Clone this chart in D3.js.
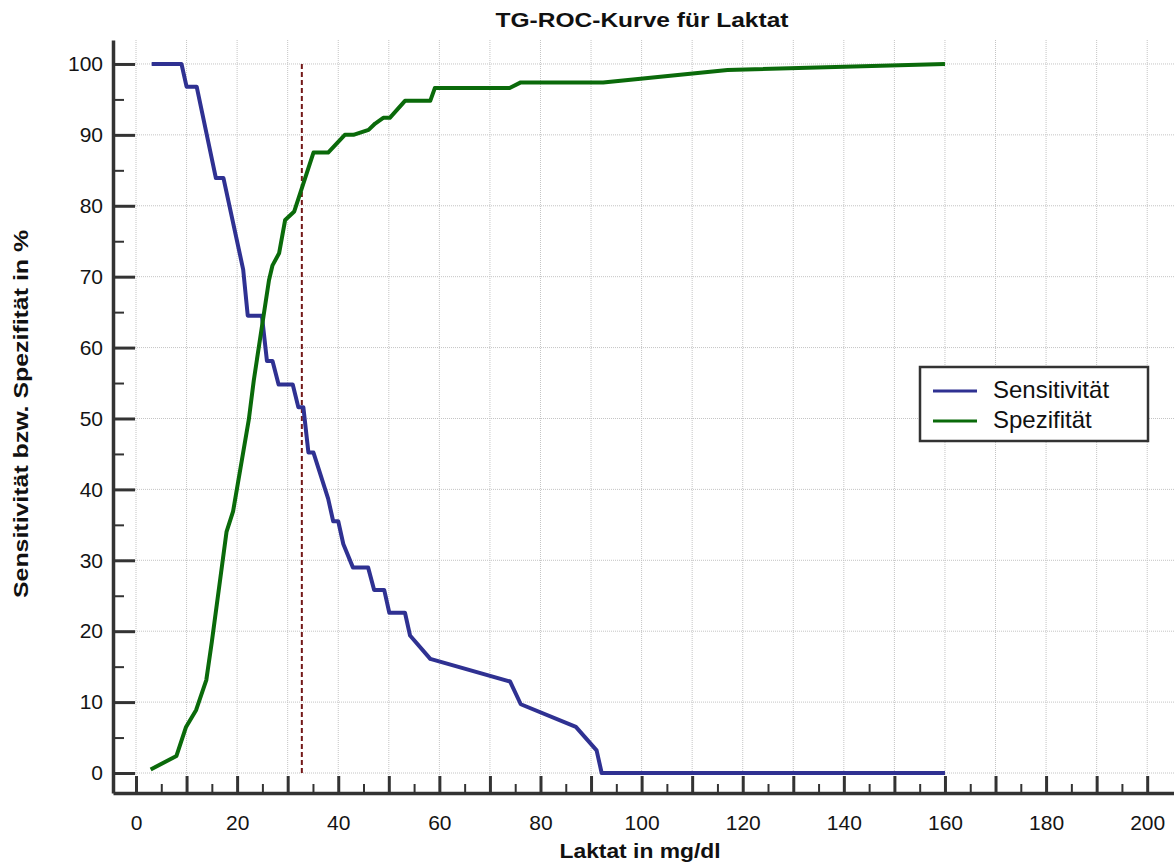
<!DOCTYPE html>
<html>
<head>
<meta charset="utf-8">
<script src="https://cdn.jsdelivr.net/npm/d3@7"></script>
<style>
    body { margin: 0; background: #fff; }
    svg { display: block; font-family: Arial, "Liberation Sans", sans-serif; }
    .grid line { stroke: #c4c4c4; stroke-width: 1; stroke-dasharray: 1,1; }
    .axis .domain { stroke: #333; stroke-width: 3.5; }
    .axis .tick line { stroke: #333; stroke-width: 3; }
    .axis.minor .tick line { stroke-width: 2; }
    .axis text { font-size: 21px; fill: #141414; }
</style>
</head>
<body>
<svg id="chart" width="1174" height="865"></svg>
<script>
// Laktat-Grenzwert (mg/dl)
var laktatSens = [3.1, 9.0, 10.0, 12.0, 15.8, 17.3, 21.2, 22.1, 24.9, 25.9, 27.0, 28.2, 31.0, 32.1, 33.1, 34.1, 35.1,
    38.0, 39.0, 40.0, 41.0, 42.9, 45.9, 47.1, 49.1, 50.1, 53.2, 54.2, 58.2, 74.0, 76.1, 87.0, 91.1, 92.1, 160];
var sensitivitaet = [100, 100, 96.8, 96.8, 83.9, 83.9, 71.0, 64.5, 64.5, 58.1, 58.1, 54.8, 54.8, 51.6, 51.6, 45.2, 45.2,
    38.7, 35.5, 35.5, 32.3, 29.0, 29.0, 25.8, 25.8, 22.6, 22.6, 19.4, 16.1, 12.9, 9.7, 6.5, 3.2, 0, 0];

var laktatSpez = [2.9, 8.0, 9.9, 11.9, 13.9, 15.0, 17.9, 19.2, 22.3, 23.3, 25.3, 26.3, 27.0, 28.3, 29.5, 31.3, 35.1,
    38.0, 41.3, 43.0, 46.0, 47.3, 48.9, 50.2, 53.2, 58.2, 59.1, 73.9, 76.1, 92.4, 117, 160];
var spezifitaet = [0.5, 2.4, 6.5, 8.9, 13.1, 18.5, 34.0, 36.9, 49.8, 55.4, 64.8, 69.5, 71.6, 73.3, 78.0, 79.2, 87.5,
    87.5, 90.0, 90.0, 90.7, 91.6, 92.4, 92.4, 94.8, 94.8, 96.6, 96.6, 97.4, 97.4, 99.15, 100];

var cutoff = 32.8;

var xTicks = d3.range(0, 201, 10),
    xMinorTicks = d3.range(5, 201, 10),
    yTicks = d3.range(0, 101, 10),
    yMinorTicks = d3.range(5, 101, 10);

var series = [
    { name: 'Sensitivität', x: laktatSens, y: sensitivitaet, color: '#2f3192' },
    { name: 'Spezifität', x: laktatSpez, y: spezifitaet, color: '#0a6a0a' }
];


var svg = d3.select('#chart');

var x = d3.scaleLinear().domain([-4.55, 205.3]).range([113, 1174]),
    y = d3.scaleLinear().domain([-2.82, 103.38]).range([793, 40]);

// grid
svg.append('g')
    .attr('class', 'grid')
    .selectAll('line.v')
    .data(xTicks)
    .enter()
    .append('line')
    .attr('x1', function(d) { return x(d); })
    .attr('x2', function(d) { return x(d); })
    .attr('y1', y.range()[1])
    .attr('y2', y.range()[0]);

svg.select('.grid')
    .selectAll('line.h')
    .data(yTicks)
    .enter()
    .append('line')
    .attr('x1', x.range()[0])
    .attr('x2', x.range()[1])
    .attr('y1', function(d) { return y(d); })
    .attr('y2', function(d) { return y(d); });

// axes, ticks point into the plot
svg.append('g')
    .attr('class', 'axis minor')
    .attr('transform', 'translate(0,' + y.range()[0] + ')')
    .call(d3.axisBottom(x).tickValues(xMinorTicks).tickSize(-9).tickSizeOuter(0).tickFormat(''))
    .call(function(g) { g.select('.domain').remove(); });

svg.append('g')
    .attr('class', 'axis minor')
    .attr('transform', 'translate(' + x.range()[0] + ',0)')
    .call(d3.axisLeft(y).tickValues(yMinorTicks).tickSize(-11).tickSizeOuter(0).tickFormat(''))
    .call(function(g) { g.select('.domain').remove(); });

svg.append('g')
    .attr('class', 'axis')
    .attr('transform', 'translate(0,' + y.range()[0] + ')')
    .call(d3.axisBottom(x)
        .tickValues(xTicks)
        .tickSize(-17)
        .tickSizeOuter(0)
        .tickPadding(22)
        .tickFormat(function(d) { return d % 20 === 0 ? d : ''; }));

svg.append('g')
    .attr('class', 'axis')
    .attr('transform', 'translate(' + x.range()[0] + ',0)')
    .call(d3.axisLeft(y)
        .tickValues(yTicks)
        .tickSize(-22)
        .tickSizeOuter(0)
        .tickPadding(10));

// cutoff
svg.append('line')
    .attr('x1', x(cutoff))
    .attr('x2', x(cutoff))
    .attr('y1', y(100))
    .attr('y2', y(0))
    .attr('stroke', '#731818')
    .attr('stroke-width', 2)
    .attr('stroke-dasharray', '5,3');

var line = d3.line()
    .x(function(d) { return x(d[0]); })
    .y(function(d) { return y(d[1]); });

svg.selectAll('path.curve')
    .data(series)
    .enter()
    .append('path')
    .attr('class', 'curve')
    .attr('fill', 'none')
    .attr('stroke', function(d) { return d.color; })
    .attr('stroke-width', 4)
    .attr('stroke-linejoin', 'round')
    .attr('d', function(d) { return line(d3.zip(d.x, d.y)); });

// legend
var legend = svg.append('g')
    .attr('transform', 'translate(920,367)');

legend.append('rect')
    .attr('width', 228)
    .attr('height', 74)
    .attr('fill', '#fff')
    .attr('stroke', '#333')
    .attr('stroke-width', 2.5);

var item = legend.selectAll('g.item')
    .data(series)
    .enter()
    .append('g')
    .attr('class', 'item')
    .attr('transform', function(d, i) { return 'translate(0,' + (24 + i * 30) + ')'; });

item.append('line')
    .attr('x1', 13)
    .attr('x2', 57)
    .attr('stroke', function(d) { return d.color; })
    .attr('stroke-width', 3);

item.append('text')
    .attr('x', 73)
    .attr('y', 7)
    .style('font-size', '24px')
    .style('fill', '#111')
    .text(function(d) { return d.name; });

// titles
svg.append('text')
    .attr('x', 642)
    .attr('y', 27)
    .attr('text-anchor', 'middle')
    .attr('textLength', 293)
    .attr('lengthAdjust', 'spacingAndGlyphs')
    .style('font-size', '21px')
    .style('font-weight', 'bold')
    .style('fill', '#111')
    .text('TG-ROC-Kurve für Laktat');

svg.append('text')
    .attr('x', 640)
    .attr('y', 858)
    .attr('text-anchor', 'middle')
    .attr('textLength', 161)
    .attr('lengthAdjust', 'spacingAndGlyphs')
    .style('font-size', '21px')
    .style('font-weight', 'bold')
    .style('fill', '#111')
    .text('Laktat in mg/dl');

svg.append('text')
    .attr('transform', 'translate(28,414) rotate(-90)')
    .attr('text-anchor', 'middle')
    .attr('textLength', 368)
    .attr('lengthAdjust', 'spacingAndGlyphs')
    .style('font-size', '21px')
    .style('font-weight', 'bold')
    .style('fill', '#111')
    .text('Sensitivität bzw. Spezifität in %');
</script>
</body>
</html>
